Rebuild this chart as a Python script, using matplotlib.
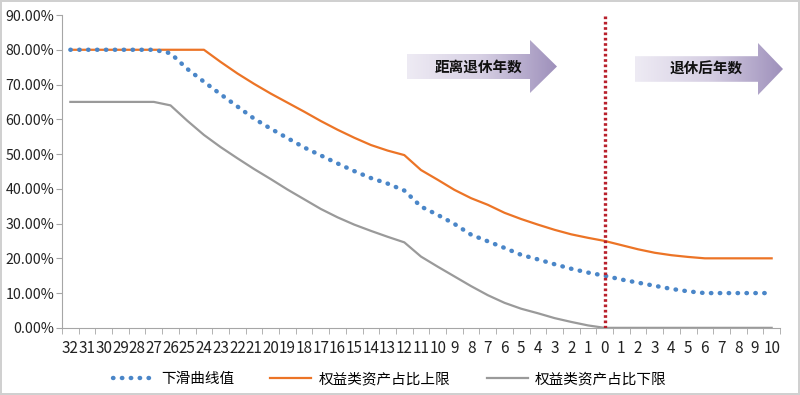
import matplotlib
matplotlib.use("Agg")
import matplotlib.pyplot as plt
import numpy as np
from matplotlib.path import Path
from matplotlib.patches import PathPatch
from matplotlib.colors import LinearSegmentedColormap

plt.rcParams['font.family'] = ['Noto Sans CJK SC', 'DejaVu Sans']

# x labels: years before retirement (32..0) then years after (1..10)
labels = [str(v) for v in range(32, -1, -1)] + [str(v) for v in range(1, 11)]

glide = [80, 80, 80, 80, 80, 80, 79, 74.5, 70.8, 67.2, 63.7, 60.2, 57.3, 54.6,
         51.9, 49.6, 47.3, 45.1, 43.1, 41.5, 39.5, 34.9, 32.5, 29.9, 26.8, 24.9,
         23.0, 21.0, 19.7, 18.3, 17.0, 15.9, 15.0, 13.9, 13.0, 12.1, 11.2, 10.5,
         10, 10, 10, 10, 10]
upper = [80, 80, 80, 80, 80, 80, 80, 80, 80, 76.5, 73.2, 70.2, 67.4, 64.8,
         62.2, 59.5, 57.0, 54.7, 52.6, 51.0, 49.7, 45.4, 42.6, 39.7, 37.3, 35.4,
         33.1, 31.3, 29.7, 28.2, 26.9, 25.9, 25.0, 23.8, 22.6, 21.6, 20.9, 20.4,
         20, 20, 20, 20, 20]
lower = [65, 65, 65, 65, 65, 65, 64.0, 59.6, 55.5, 52.0, 48.8, 45.7, 42.8, 39.8,
         37.0, 34.2, 31.8, 29.7, 27.9, 26.2, 24.6, 20.5, 17.6, 14.8, 12.0, 9.4,
         7.2, 5.5, 4.2, 2.8, 1.7, 0.7, 0, 0, 0, 0, 0, 0, 0, 0, 0, 0, 0]
series_names = ['下滑曲线值', '权益类资产占比上限', '权益类资产占比下限']
retire_idx = labels.index('0')

fig = plt.figure(figsize=(8, 3.95), dpi=100)
fig.patch.set_edgecolor('#d0d0d0')
fig.patch.set_linewidth(1.5)
ax = fig.add_axes([0.0775, 0.170, 0.8975, 0.792])

x = np.arange(len(labels))
ax.plot(x, glide, color='#4a86c8', lw=3.2, linestyle=(0, (0.1, 1.9)),
        dash_capstyle='round', label=series_names[0], zorder=3)
ax.plot(x, upper, color='#ec7426', lw=1.6, label=series_names[1], zorder=2)
ax.plot(x, lower, color='#9a9a9a', lw=1.6, label=series_names[2], zorder=2)
ax.axvline(retire_idx, ymin=0, ymax=1, color='#b8202c', lw=2.4,
           linestyle=(0, (0.8, 0.8)), zorder=4)

ax.set_xlim(-0.5, len(labels) - 0.5)
ax.set_ylim(0, 90)
ax.set_yticks(np.arange(0, 91, 10))
ax.set_yticklabels([f'{v:.2f}%' for v in np.arange(0, 91, 10)])
ax.set_xticks(x)
ax.set_xticklabels(labels)
ax.set_xticks(np.arange(-0.5, len(labels)), minor=True)
ax.tick_params(axis='x', which='major', length=0, pad=9, labelsize=11,
               labelcolor='#222222')
ax.tick_params(axis='x', which='minor', length=4, color='#a6a6a6')
ax.tick_params(axis='y', length=4, color='#a6a6a6', pad=1.5, labelsize=10.2,
               labelcolor='#222222')
for s in ['top', 'right']:
    ax.spines[s].set_visible(False)
for s in ['left', 'bottom']:
    ax.spines[s].set_color('#a6a6a6')

fig.legend(loc='center', bbox_to_anchor=(0.487, 0.04), ncol=3, frameon=False,
           fontsize=10.5, handlelength=2.8, handletextpad=0.5, columnspacing=2.5)

# gradient block arrows, drawn in pixel space on an overlay
ov = fig.add_axes([0, 0, 1, 1], zorder=5)
ov.set_xlim(0, 800)
ov.set_ylim(395, 0)
ov.axis('off')
ov.patch.set_alpha(0)
cmap = LinearSegmentedColormap.from_list('arr', ['#eeebf4', '#d6cfe3', '#9e90bb'])


def block_arrow(x0, x1, xt, yc, bh, hh, text):
    verts = [(x0, yc - bh), (x1, yc - bh), (x1, yc - hh), (xt, yc),
             (x1, yc + hh), (x1, yc + bh), (x0, yc + bh), (x0, yc - bh)]
    path = Path(verts, [Path.MOVETO] + [Path.LINETO] * 6 + [Path.CLOSEPOLY])
    patch = PathPatch(path, facecolor='none', edgecolor='none')
    ov.add_patch(patch)
    grad = np.linspace(0, 1, 256).reshape(1, -1)
    im = ov.imshow(grad, cmap=cmap, aspect='auto',
                   extent=(x0, xt, yc + hh, yc - hh), zorder=5)
    im.set_clip_path(patch)
    ov.text((x0 + x1) / 2 + 10, yc, text, ha='center', va='center',
            fontsize=10.5, fontweight='bold', color='#111111', zorder=6)


block_arrow(407, 530, 557, 66.5, 12.5, 26.5, '距离退休年数')
block_arrow(635, 758, 783, 69.0, 12.8, 26.0, '退休后年数')
ov.set_xlim(0, 800)
ov.set_ylim(395, 0)

fig.savefig('out.png', dpi=100)
